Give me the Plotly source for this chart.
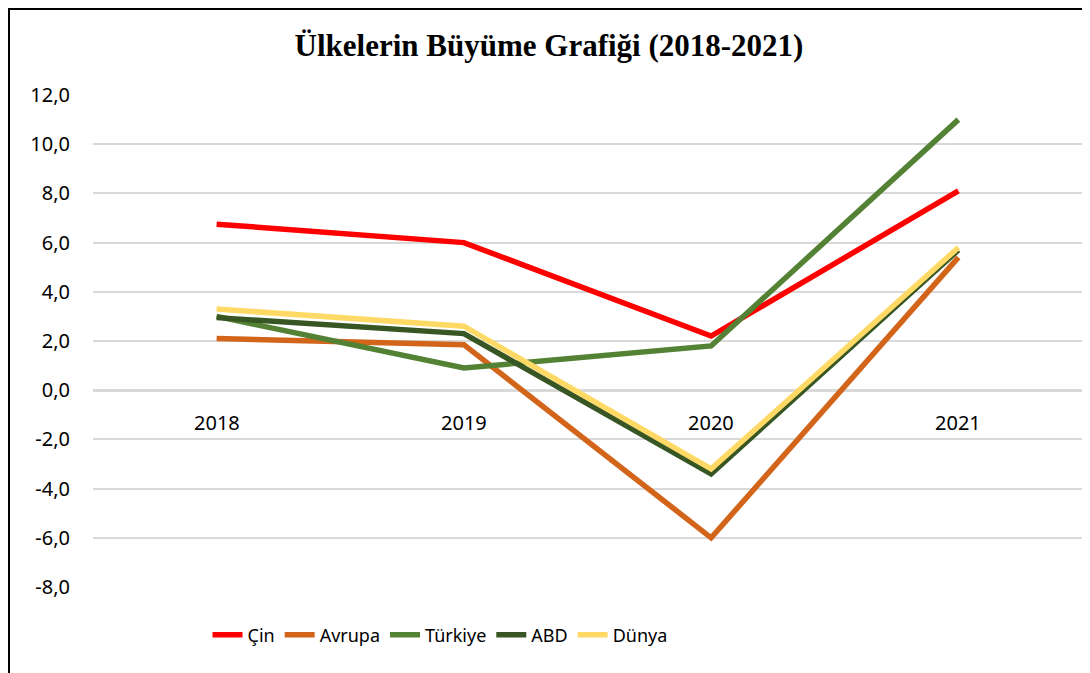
import plotly.graph_objects as go

years = ["2018", "2019", "2020", "2021"]
cin = [6.75, 6.0, 2.2, 8.1]
avrupa = [2.1, 1.85, -6.0, 5.4]
turkiye = [3.0, 0.9, 1.8, 11.0]
abd = [2.95, 2.3, -3.4, 5.7]
dunya = [3.3, 2.6, -3.2, 5.8]

tick_vals = [12, 10, 8, 6, 4, 2, 0, -2, -4, -6, -8]
tick_labels = ["12,0", "10,0", "8,0", "6,0", "4,0", "2,0", "0,0", "-2,0", "-4,0", "-6,0", "-8,0"]

series = [
    ("Çin", cin, "#FF0000"),
    ("Avrupa", avrupa, "#D2651A"),
    ("Türkiye", turkiye, "#548235"),
    ("ABD", abd, "#375623"),
    ("Dünya", dunya, "#FFD966"),
]

fig = go.Figure()
for name, vals, col in series:
    fig.add_trace(go.Scatter(x=years, y=vals, name=name, mode="lines",
                             line=dict(color=col, width=5.5)))

for i, yr in enumerate(years):
    fig.add_annotation(x=i, y=0, xref="x", yref="y", text=yr, showarrow=False,
                       yshift=-32, font=dict(family="Noto Sans", size=20, color="#000000"))

# page body has an 8px margin: figure starts at screen (8, 8)
fig.add_shape(type="rect", xref="paper", yref="paper",
              x0=(8 - 93) / 989 + 0.001, x1=(1088 - 93) / 989,
              y0=(587 - 700) / 492, y1=(587 - 9) / 492,
              line=dict(color="#000000", width=2), fillcolor="rgba(0,0,0,0)", layer="below")

fig.update_layout(
    width=1082, height=665,
    margin=dict(l=85, r=8, t=87, b=86),
    paper_bgcolor="white", plot_bgcolor="white",
    title=dict(text="<b>Ülkelerin Büyüme Grafiği (2018-2021)</b>",
               x=((290 + 808) / 2 - 8) / 1082, xanchor="center",
               y=1 - (45 - 8) / 665, yanchor="middle",
               font=dict(family="Liberation Serif", size=31, color="#000000")),
    xaxis=dict(type="category", range=[-0.5, 3.5], showticklabels=False, showgrid=False,
               zeroline=False, showline=False, ticks=""),
    yaxis=dict(range=[-8, 12], tickmode="array", tickvals=tick_vals, ticktext=tick_labels,
               showgrid=True, gridcolor="#D9D9D9",
               gridwidth=2, zeroline=True, zerolinecolor="#D9D9D9", zerolinewidth=3,
               showline=False, ticks="", ticklabelstandoff=22,
               tickfont=dict(family="Noto Sans", size=20, color="#000000")),
    legend=dict(orientation="h", x=(440 - 93) / 989, xanchor="center", y=(587 - 635) / 492,
                yanchor="middle", font=dict(family="Noto Sans", size=18, color="#000000"),
                traceorder="normal"),
    showlegend=True,
)

fig.write_html("out.html")
